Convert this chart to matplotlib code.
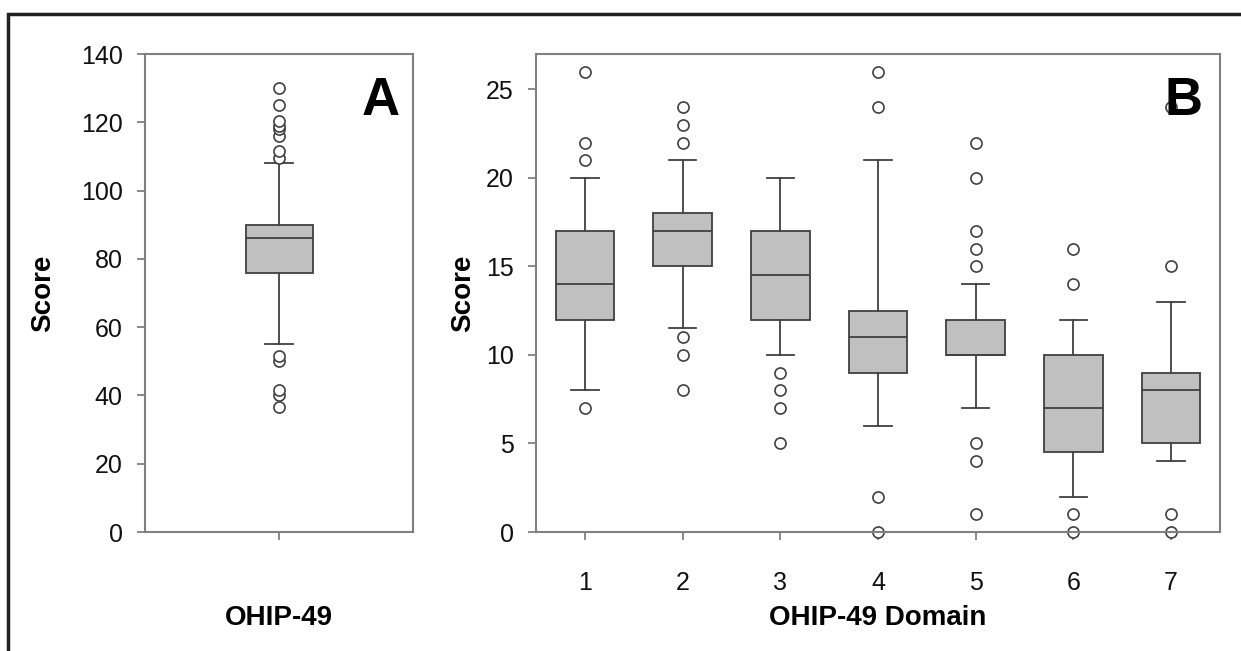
import numpy as np
import matplotlib
matplotlib.use('Agg')
import matplotlib.pyplot as plt
from matplotlib.patches import Rectangle

plt.rcParams['font.family'] = ['Liberation Sans', 'DejaVu Sans']

# Panel A: total OHIP-49 score (box statistics)
total_stats = dict(whislo=55, q1=76, med=86, q3=90, whishi=108)
total_fliers = [36.5, 40, 41.5, 50, 51.5, 109.5, 111.5, 116, 118, 119, 120.5, 125, 130]

# Panel B: seven OHIP-49 domains
domains = [1, 2, 3, 4, 5, 6, 7]
dom_low = [8, 11.5, 10, 6, 7, 2, 4]
dom_q1 = [12, 15, 12, 9, 10, 4.5, 5]
dom_med = [14, 17, 14.5, 11, 10, 7, 8]
dom_q3 = [17, 18, 17, 12.5, 12, 10, 9]
dom_high = [20, 21, 20, 21, 14, 12, 13]
dom_fliers = [
    [7, 21, 22, 26],
    [8, 10, 11, 22, 23, 24],
    [5, 7, 8, 9],
    [0, 2, 24, 26],
    [1, 4, 5, 15, 16, 17, 20, 22],
    [0, 1, 14, 16],
    [0, 1, 15, 24],
]

edge = '#404040'
fill = '#c0c0c0'
spine_col = '#808080'

box_kw = dict(
    patch_artist=True,
    boxprops=dict(facecolor=fill, edgecolor=edge, linewidth=1.3),
    medianprops=dict(color=edge, linewidth=1.3),
    whiskerprops=dict(color=edge, linewidth=1.3),
    capprops=dict(color=edge, linewidth=1.3),
    flierprops=dict(marker='o', markerfacecolor='white', markeredgecolor=edge,
                    markersize=8, markeredgewidth=1.2, linestyle='none'),
)

fig = plt.figure(figsize=(12.41, 6.51), dpi=100)
W, H = 1241, 651

def px_axes(l, t, r, b):
    return fig.add_axes([l / W, 1 - b / H, (r - l) / W, (b - t) / H])

def style(ax):
    for s in ax.spines.values():
        s.set_color(spine_col)
        s.set_linewidth(1.5)
    ax.tick_params(axis='both', direction='out', length=6, width=1.3,
                   color=spine_col, labelsize=18, labelcolor='#111111')
    ax.tick_params(axis='y', pad=10)
    ax.tick_params(axis='x', pad=22)

def unclip(res):
    for f in res['fliers']:
        f.set_clip_on(False)

# Panel A
axA = px_axes(145, 54, 413, 532)
stA = dict(total_stats, fliers=total_fliers)
unclip(axA.bxp([stA], positions=[1], widths=0.25, capwidths=0.105, **box_kw))
axA.set_xlim(0.5, 1.5)
axA.set_ylim(0, 140)
axA.set_yticks(np.arange(0, 141, 20))
axA.set_xticks([1])
axA.set_xticklabels([''])
style(axA)
axA.text(0.88, 0.955, 'A', transform=axA.transAxes, ha='center', va='top',
         fontsize=38, fontweight='bold')

# Panel B
axB = px_axes(536, 54, 1220, 532)
statsB = []
for i in range(len(domains)):
    statsB.append(dict(whislo=dom_low[i], q1=dom_q1[i], med=dom_med[i],
                       q3=dom_q3[i], whishi=dom_high[i], fliers=dom_fliers[i]))
unclip(axB.bxp(statsB, positions=domains, widths=0.6, capwidths=0.28, **box_kw))
axB.set_xlim(0.5, 7.5)
axB.set_ylim(0, 27)
axB.set_yticks(np.arange(0, 26, 5))
axB.set_xticks(domains)
axB.set_xticklabels([str(d) for d in domains])
style(axB)
axB.text(0.947, 0.955, 'B', transform=axB.transAxes, ha='center', va='top',
         fontsize=38, fontweight='bold')

# axis titles
lab = dict(fontsize=20, fontweight='bold', ha='center', va='center')
fig.text(43 / W, 1 - 293 / H, 'Score', rotation=90, **lab)
fig.text(463 / W, 1 - 293 / H, 'Score', rotation=90, **lab)
fig.text(279 / W, 1 - 618 / H, 'OHIP-49', **lab)
fig.text(878 / W, 1 - 618 / H, 'OHIP-49 Domain', **lab)

# outer frame (cut off at right and bottom like the original)
fig.patches.append(Rectangle((8 / W, -0.05), 1.1, 1 - 14 / H + 0.05,
                             transform=fig.transFigure, fill=False,
                             edgecolor='#222222', linewidth=2.5))

fig.savefig('out.png', dpi=100)
